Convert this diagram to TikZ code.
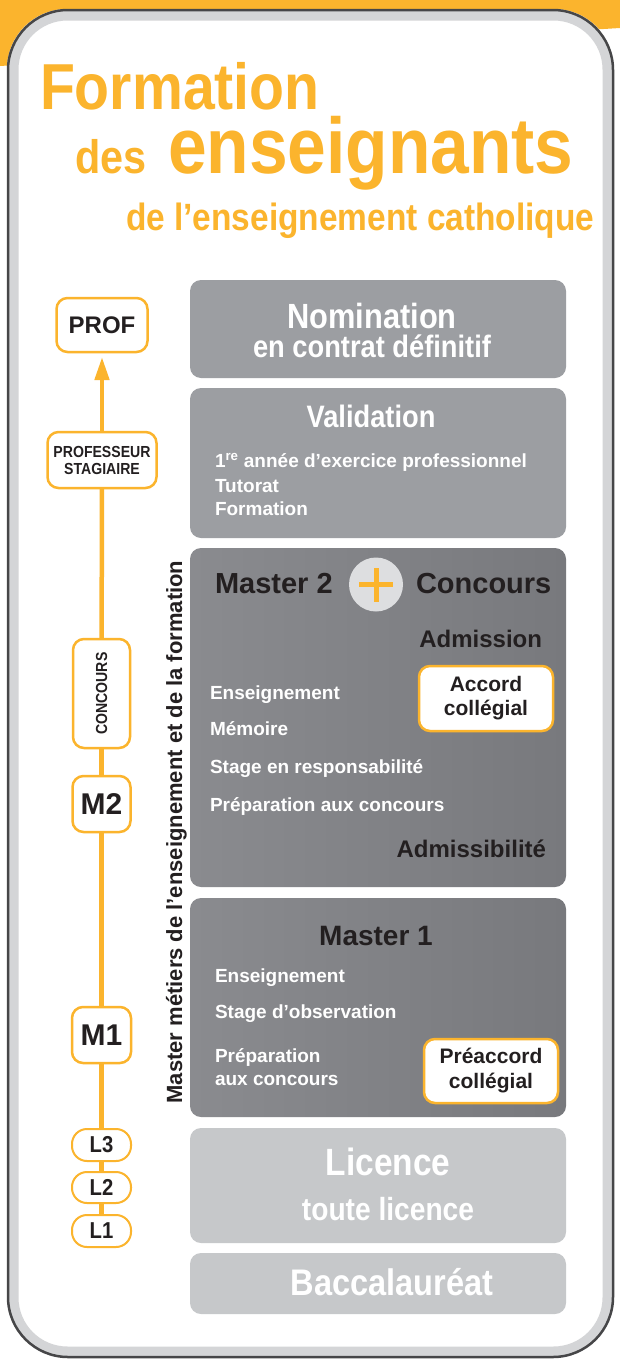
\documentclass[tikz,border=0pt]{standalone}
\usepackage{fontspec}
\setmainfont{Liberation Sans}
\newfontfamily\condf[FakeStretch=0.88]{Liberation Sans}
\usetikzlibrary{arrows.meta}
\definecolor{orng}{RGB}{251,180,45}
\definecolor{ink}{RGB}{35,31,32}
\definecolor{gmid}{RGB}{156,158,162}
\definecolor{gdarkL}{RGB}{138,139,143}
\definecolor{gdarkR}{RGB}{120,121,125}
\definecolor{glight}{RGB}{198,200,202}
\definecolor{pluscirc}{RGB}{221,222,224}
\definecolor{framedark}{RGB}{70,70,72}
\definecolor{framelight}{RGB}{212,213,215}
\newcommand\myfs[1]{\fontsize{#1}{#1}\selectfont}
\begin{document}
\begin{tikzpicture}[x=1pt,y=-1pt,
  every node/.style={inner sep=0pt, outer sep=0pt},
  gbox/.style={rounded corners=11pt, minimum width=376pt, anchor=north west},
  dbox/.style={gbox, left color=gdarkL, right color=gdarkR},
  obox/.style={draw=orng, line width=2.5pt, fill=white, rounded corners=11pt, text=ink},
  wbig/.style={text=white, font=\condf\bfseries\myfs{#1}},
  wsmall/.style={text=white, anchor=base west, font=\bfseries\myfs{19}},
  kbig/.style={text=ink, font=\bfseries\myfs{#1}},
  tline/.style={orng, line width=4.5pt},
  ttl/.style={text=orng, anchor=base west, font=\condf\bfseries\myfs{#1}}
]
\useasboundingbox (0,0) rectangle (620,1365);
% orange corner band
\fill[orng] (0,0) -- (620,0) -- (620,28) -- (0,66) -- cycle;
% frame
\fill[white, rounded corners=60pt] (7,9) rectangle (614,1358);
\draw[line width=10pt, framelight, rounded corners=54pt] (13.5,15.5) rectangle (607.5,1351.5);
\draw[line width=2.5pt, framedark, rounded corners=60pt] (8,10) rectangle (613,1357);

% title
\node[ttl=65] (t1) at (40,109) {Formation};
\node[ttl=47] (t2) at (75,173) {des};
\node[ttl=79] (t3) at (168,173) {enseignants};
\node[ttl=38] (t4) at (126,230) {de l’enseignement catholique};

% grey boxes
\node[gbox, fill=gmid, minimum height=98pt] (nom) at (190,280) {};
\node[gbox, fill=gmid, minimum height=150pt] (val) at (190,388) {};
\node[dbox, minimum height=339pt] (mtwo) at (190,548) {};
\node[dbox, minimum height=219pt] (mone) at (190,898) {};
\node[gbox, fill=glight, minimum height=115pt] (lic) at (190,1128) {};
\node[gbox, fill=glight, minimum height=61pt] (bac) at (190,1253) {};

% Nomination
\node[wbig=35, anchor=base] (nomA) at (372,328) {Nomination};
\node[wbig=31, anchor=base] (nomB) at (372,357) {en contrat définitif};
% Validation
\node[wbig=31, anchor=base] (valA) at (371,427) {Validation};
\node[wsmall] (valB) at (215,467) {1\textsuperscript{re} année d’exercice professionnel};
\node[wsmall] (valC) at (215,492) {Tutorat};
\node[wsmall] (valD) at (215,515) {Formation};

% Master 2 + Concours
\node[kbig=29, anchor=base west] (mtwoA) at (215,593) {Master 2};
\node[circle, fill=pluscirc, minimum size=54pt] (plus) at (376,584.5) {};
\draw[orng, line width=5pt] ([xshift=-17pt]plus.center) -- ([xshift=17pt]plus.center);
\draw[orng, line width=5pt] ([yshift=-17pt]plus.center) -- ([yshift=17pt]plus.center);
\node[kbig=29, anchor=base west] (conA) at (416,593) {Concours};
\node[kbig=24, anchor=base east] (adm) at (542,647) {Admission};
\node[obox, minimum width=134pt, minimum height=65pt, align=center,
      font=\bfseries\fontsize{21}{24}\selectfont] (acc) at (486,698.5) {Accord\\collégial};
\node[wsmall] (mtwoB) at (210,699) {Enseignement};
\node[wsmall] (mtwoC) at (210,735) {Mémoire};
\node[wsmall] (mtwoD) at (210,773) {Stage en responsabilité};
\node[wsmall] (mtwoE) at (210,811) {Préparation aux concours};
\node[kbig=24, anchor=base east] (admi) at (546,857) {Admissibilité};

% Master 1
\node[kbig=28, anchor=base] (moneA) at (376,945) {Master 1};
\node[wsmall] (moneB) at (215,982) {Enseignement};
\node[wsmall] (moneC) at (215,1018) {Stage d’observation};
\node[wsmall] (moneD) at (215,1062) {Préparation};
\node[wsmall] (moneE) at (215,1085) {aux concours};
\node[obox, minimum width=134pt, minimum height=64pt, align=center,
      font=\bfseries\fontsize{21}{25}\selectfont] (pre) at (491,1071) {Préaccord\\collégial};

% Licence, Bac
\node[wbig=38, anchor=base] (licA) at (388,1175) {Licence};
\node[wbig=32, anchor=base] (licB) at (388,1220) {toute licence};
\node[wbig=37, anchor=base] (bacA) at (392,1295) {Baccalauréat};

% vertical label
\node[rotate=90, anchor=base, kbig=22] (vtxt) at (182,832) {Master métiers de l’enseignement et de la formation};

% left timeline
\node[obox, minimum width=91pt, minimum height=54pt, font=\bfseries\myfs{24}] (prof) at (102,325) {PROF};
\node[obox, minimum width=109pt, minimum height=56pt, align=center,
      font=\condf\bfseries\fontsize{16}{17}\selectfont] (ps) at (102,460) {PROFESSEUR\\STAGIAIRE};
\node[obox, minimum width=57pt, minimum height=109pt] (conc) at (101.5,693.5) {};
\node[rotate=90, text=ink, font=\condf\bfseries\myfs{16}] (conct) at (conc.center) {CONCOURS};
\node[obox, minimum width=58pt, minimum height=56pt, font=\bfseries\myfs{30}] (mtwoL) at (101.5,804) {M2};
\node[obox, minimum width=59pt, minimum height=56pt, font=\bfseries\myfs{30}] (moneL) at (101.5,1035) {M1};
\node[obox, minimum width=59pt, minimum height=32pt, rounded corners=15pt, line width=2pt, font=\condf\bfseries\myfs{23}] (lthree) at (101.5,1145) {L3};
\node[obox, minimum width=59pt, minimum height=31pt, rounded corners=15pt, line width=2pt, font=\condf\bfseries\myfs{23}] (ltwo) at (101.5,1187.5) {L2};
\node[obox, minimum width=59pt, minimum height=32pt, rounded corners=15pt, line width=2pt, font=\condf\bfseries\myfs{23}] (lone) at (101.5,1231) {L1};

\draw[tline] (lone) -- (ltwo);
\draw[tline] (ltwo) -- (lthree);
\draw[tline] (lthree) -- (moneL);
\draw[tline] (moneL) -- (mtwoL);
\draw[tline] (mtwoL) -- (conc);
\draw[tline] (conc) -- (ps);
\draw[tline, -{Triangle[length=23pt,width=14pt]}, shorten >=5pt] (ps) -- (prof);
\end{tikzpicture}
\end{document}
